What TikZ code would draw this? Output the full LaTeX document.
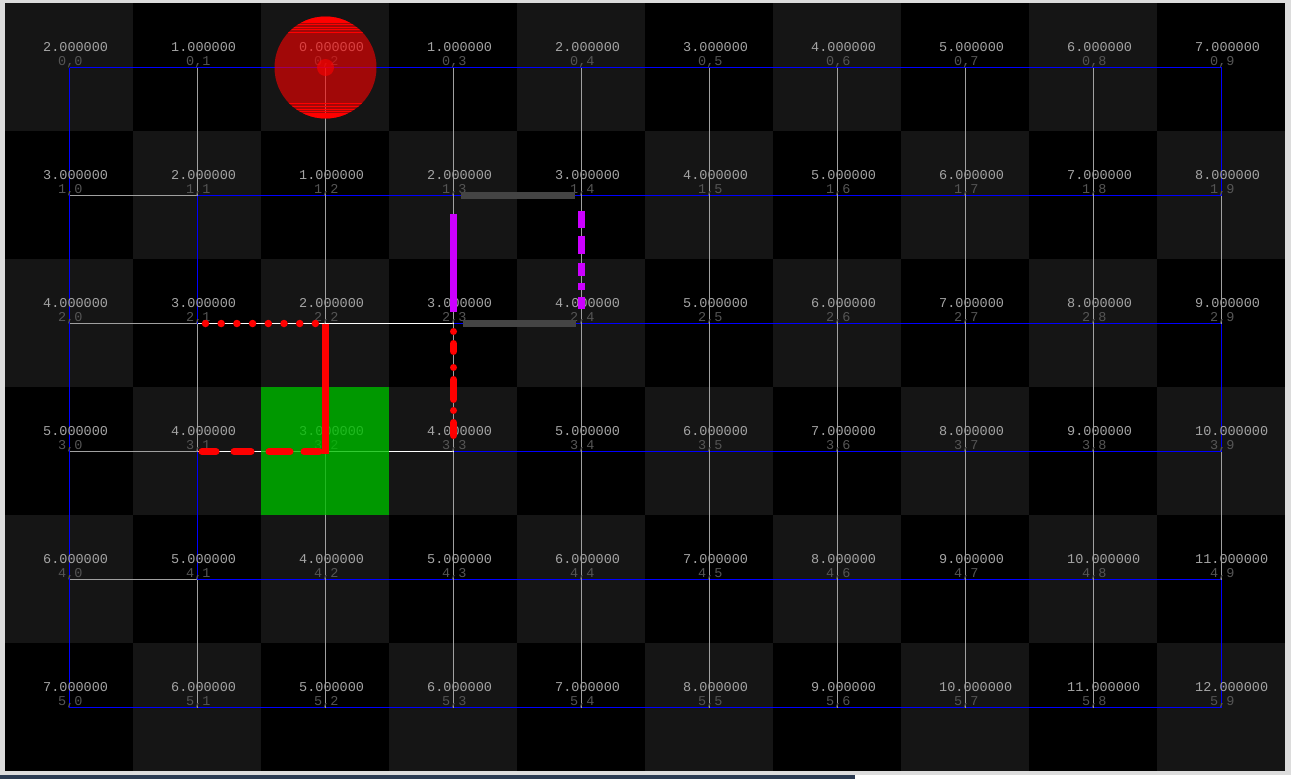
\documentclass[tikz,border=0pt]{standalone}
\usepackage{fontspec}
\setmonofont{Liberation Mono}

\begin{document}
\begin{tikzpicture}[x=1pt,y=-1pt]
\definecolor{winFrame}{HTML}{DCDCDC}
\definecolor{deskBlue}{HTML}{2B3B52}
\definecolor{cellDark}{HTML}{151515}
\definecolor{cellBlack}{HTML}{000000}
\definecolor{valueGray}{HTML}{A4A4A4}
\definecolor{indexGray}{HTML}{555555}
\definecolor{edgeGray}{HTML}{A0A0A0}
\definecolor{edgeBlue}{HTML}{0000FF}
\definecolor{goalGreen}{HTML}{00BF00}
\definecolor{trailRed}{HTML}{FF0000}
\definecolor{probeViolet}{HTML}{CC00FF}
\definecolor{wallGray}{HTML}{444444}
\tikzset{
  valtxt/.style={anchor=base west,inner sep=0pt,text=valueGray,
    font=\ttfamily\fontsize{13.5}{14}\selectfont},
  idxtxt/.style={valtxt,text=indexGray},
  edge/.style={line width=1pt,edgeGray},
  trail/.style={trailRed,line width=7pt},
  probe/.style={probeViolet,line width=7pt},
  wall/.style={wallGray,line width=7pt}
}
\useasboundingbox (0,0) rectangle (1291,779);
\fill[winFrame] (0,0) rectangle (1291,779);
\fill[deskBlue] (0,775) rectangle (855,779);
\fill[white] (855,775) rectangle (1291,779);

% checker cells and centres
\foreach \r in {0,...,5}{
  \foreach \c in {0,...,9}{
    \pgfmathtruncatemacro{\shade}{mod(\r+\c,2)}
    \ifnum\shade=0 \def\cellcol{cellDark}\else\def\cellcol{cellBlack}\fi
    \fill[\cellcol] (5+128*\c,3+128*\r) rectangle ++(128,128);
    \coordinate (n-\r-\c) at (69.5+128*\c,67.5+128*\r);
  }
}

% graph edges
\foreach \r in {0,...,5}{
  \foreach \c [count=\d from 1] in {0,...,8}
    \draw[edge,edgeBlue] (n-\r-\c) -- (n-\r-\d);
}
\foreach \r [count=\s from 1] in {0,...,4}{
  \foreach \c in {1,...,8}
    \draw[edge] (n-\r-\c) -- (n-\s-\c);
  \draw[edge,edgeBlue] (n-\r-0) -- (n-\s-0);
  \draw[edge,edgeBlue] (n-\r-9) -- (n-\s-9);
}
\foreach \a/\b in {1-0/1-1,2-0/2-1,3-0/3-1,4-0/4-1,1-9/2-9,3-9/4-9}
  \draw[edge] (n-\a) -- (n-\b);
\foreach \a/\b in {1-1/2-1,3-1/4-1}
  \draw[edge,edgeBlue] (n-\a) -- (n-\b);
\foreach \a/\b in {2-1/2-2,2-2/2-3,3-1/3-2,3-2/3-3}
  \draw[edge,white] (n-\a) -- (n-\b);

% cell labels
\foreach \r in {0,...,5}{
  \foreach \c in {0,...,9}{
    \pgfmathtruncatemacro{\dist}{\r+abs(\c-2)}
    \node[valtxt] (v-\r-\c) at (43+128*\c,51+128*\r) {\dist.000000};
    \node[idxtxt] (i-\r-\c) at (58+128*\c,65.5+128*\r) {\r,\c};
  }
}

% goal cell
\fill[goalGreen,opacity=0.8] (261,387) rectangle (389,515);

% start disc
\fill[trailRed,opacity=0.6] (n-0-2) circle (51pt);
\begin{scope}
  \clip (n-0-2) circle (51pt);
  \foreach \ya/\yb in {16/23,24/25,26.5/27.5,29/30,31.5/32.5,
                       102.5/103.5,106/107,108.5/109.5,110.5/111.5,112.5/119}
    \fill[trailRed] (270,\ya) rectangle (380,\yb);
\end{scope}
\fill[trailRed,opacity=0.6] (n-0-2) circle (8.5pt);

% walls
\draw[wall] (n-1-3) ++(7,0) -- ([xshift=-7pt]n-1-4);
\draw[wall] (n-2-3) ++(9,-0.5) -- ([xshift=-6pt,yshift=0.5pt]n-2-4);

% probes
\draw[probe,shorten <=18pt,shorten >=12pt] (n-1-3) -- (n-2-3);
\draw[probe,shorten <=15pt,shorten >=15pt,
  dash pattern=on 17pt off 8pt on 18pt off 9pt on 13pt off 7pt on 7pt off 7pt on 12pt off 30pt]
  (n-1-4) -- (n-2-4);

% trails
\draw[trail,shorten >=-2pt] (n-2-2) -- (n-3-2);
\draw[trail,line width=7.5pt,line cap=round,shorten <=8pt,dash pattern=on 0pt off 15.7pt]
  (n-2-1) -- (n-2-2);
\draw[trail,line width=7pt,line cap=round,shorten <=4.5pt,
  dash pattern=on 14pt off 18pt on 17pt off 18pt on 21pt off 14pt on 15pt off 40pt]
  (n-3-1) -- (n-3-2);
\draw[trail,line width=7pt,line cap=round,shorten <=8pt,
  dash pattern=on 0pt off 12pt on 8pt off 16pt on 0pt off 12pt on 20pt off 11pt on 0pt off 12pt on 13pt off 50pt]
  (n-2-3) -- (n-3-3);
\end{tikzpicture}
\end{document}
